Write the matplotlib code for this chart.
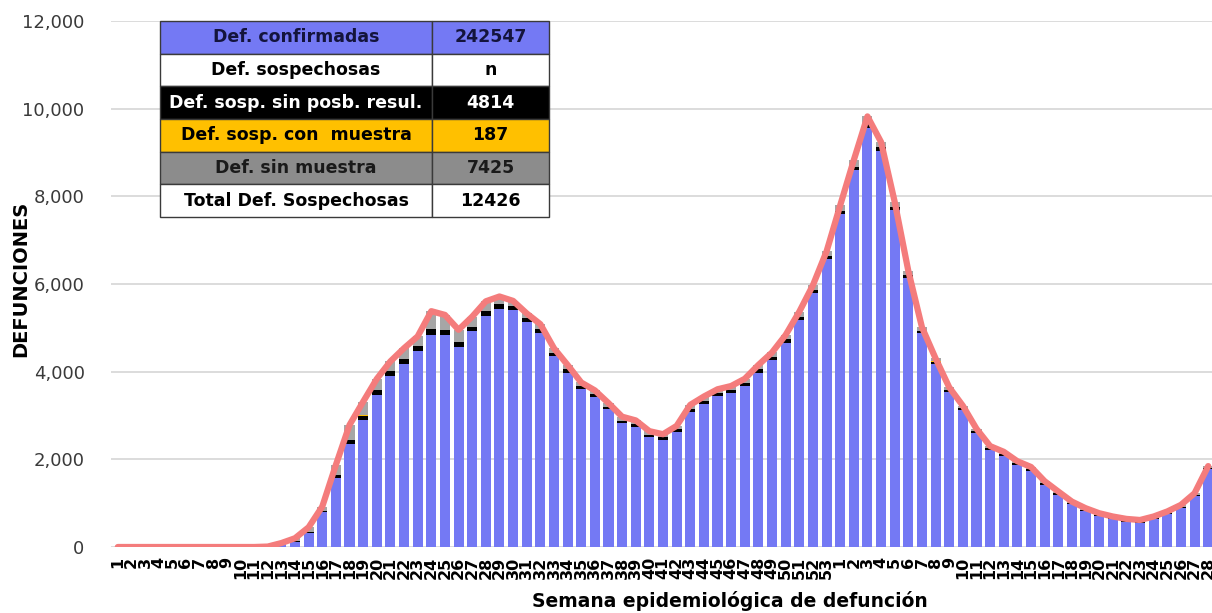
import matplotlib
matplotlib.use("Agg")
import matplotlib.pyplot as plt
import numpy as np
from matplotlib.ticker import FuncFormatter

# ---------------- data ----------------
weeks_2020 = [str(w) for w in range(1, 54)]
weeks_2021 = [str(w) for w in range(1, 29)]
week_labels = weeks_2020 + weeks_2021

confirmadas = [0, 0, 0, 0, 0, 0, 0, 0, 0, 0, 0, 10, 60,
               120, 330, 790, 1580, 2340, 2890, 3470, 3910, 4180, 4475,
               4845, 4830, 4560, 4920, 5280, 5435, 5410, 5135, 4890, 4360,
               3980, 3610, 3430, 3140, 2820, 2745, 2500, 2440, 2630, 3080,
               3260, 3435, 3510, 3665, 3980, 4255, 4665, 5185, 5790, 6560,
               7590, 8595, 9560, 9035, 7690, 6145, 4880, 4180, 3530, 3120,
               2605, 2210, 2080, 1875, 1745, 1425, 1195, 970, 820, 710,
               635, 580, 555, 635, 750, 900, 1165, 1775]

sin_posib_resul = [0, 0, 0, 0, 0, 0, 0, 0, 0, 0, 0, 0, 0,
                   10, 20, 40, 60, 100, 110, 110, 110, 110, 110,
                   120, 120, 110, 100, 100, 100, 90, 80, 80, 70,
                   70, 60, 60, 60, 60, 60, 60, 60, 60, 60,
                   70, 70, 70, 70, 70, 70, 70, 70, 70, 80,
                   80, 80, 90, 80, 70, 60, 50, 50, 50, 45,
                   40, 40, 40, 35, 35, 30, 30, 25, 25, 20,
                   20, 20, 20, 20, 20, 20, 20, 20]

con_muestra = [0, 0, 0, 0, 0, 0, 0, 0, 0, 0, 0, 0, 0,
               0, 0, 2, 3, 4, 5, 5, 5, 5, 5,
               5, 5, 5, 5, 5, 5, 5, 4, 4, 4,
               3, 3, 3, 3, 3, 3, 3, 3, 3, 3,
               3, 3, 3, 3, 3, 3, 3, 3, 3, 3,
               3, 3, 3, 3, 3, 2, 2, 2, 2, 2,
               2, 2, 2, 1, 1, 1, 1, 1, 1, 1,
               1, 1, 1, 1, 1, 1, 1, 1]

sin_muestra = [0, 0, 0, 0, 0, 0, 0, 0, 0, 0, 0, 0, 30,
               70, 100, 90, 230, 340, 310, 250, 210, 240, 215,
               410, 340, 280, 230, 220, 175, 110, 110, 110, 100,
               100, 80, 80, 80, 90, 80, 80, 70, 70, 100,
               100, 90, 90, 100, 100, 110, 100, 110, 110, 100,
               120, 150, 170, 120, 110, 90, 80, 70, 60, 55,
               50, 50, 50, 45, 45, 45, 40, 40, 40, 40,
               40, 40, 40, 40, 40, 40, 40, 50]

table_labels = ["Def. confirmadas", "Def. sospechosas", "Def. sosp. sin posb. resul.",
                "Def. sosp. con  muestra", "Def. sin muestra", "Total Def. Sospechosas"]
table_values = ["242547", "n", "4814", "187", "7425", "12426"]

# ---------------- style ----------------
BLUE = "#7479F4"
BLACK = "#000000"
ORANGE = "#FFC000"
GRAY = "#A6A6A6"
LINE = "#F47C7C"

W, H = 1212, 613
fig = plt.figure(figsize=(W / 100, H / 100), dpi=100)
left, right_px, top_px, bottom_px = 111, 1215, 21, 547
aw, ah = right_px - left, bottom_px - top_px
ax = fig.add_axes([left / W, (H - bottom_px) / H, aw / W, ah / H])

x = np.arange(len(week_labels))
conf = np.array(confirmadas, dtype=float)
blk = np.array(sin_posib_resul, dtype=float)
org = np.array(con_muestra, dtype=float)
gry = np.array(sin_muestra, dtype=float)
bw = 0.74

ax.bar(x, conf, width=bw, color=BLUE, zorder=2)
ax.bar(x, blk, width=bw, bottom=conf, color=BLACK, zorder=2)
ax.bar(x, org, width=bw, bottom=conf + blk, color=ORANGE, zorder=2)
ax.bar(x, gry, width=bw, bottom=conf + blk + org, color=GRAY, zorder=2)
total = conf + blk + org + gry
ax.plot(x, total, color=LINE, lw=4.5, solid_joinstyle="round", solid_capstyle="round", zorder=3)

ax.set_xlim(-0.5, len(x) - 0.5)
ax.set_ylim(0, 12000)
ax.set_yticks(np.arange(0, 12001, 2000))
ax.yaxis.set_major_formatter(FuncFormatter(lambda v, p: f"{int(v):,}"))
ax.grid(axis="y", color="#D9D9D9", lw=1.3, zorder=0)
ax.set_axisbelow(True)
for s in ax.spines.values():
    s.set_visible(False)
ax.tick_params(axis="y", length=0, pad=19, labelsize=13, labelcolor="#3A3A3A")
ax.set_xticks(x)
ax.set_xticklabels(week_labels, rotation=90, fontsize=11.5, fontweight="bold")
ax.tick_params(axis="x", length=0, pad=7)

ax.set_ylabel("DEFUNCIONES", fontsize=14, fontweight="bold")
ax.yaxis.set_label_coords((30 - left) / aw, 0.51)
ax.set_xlabel("Semana epidemiológica de defunción", fontsize=13.5, fontweight="bold")
ax.xaxis.set_label_coords((730 - left) / aw, -(591 - bottom_px) / ah)

# ---------------- table ----------------
tl, tt, tr, tb = 160, 21, 549, 217
tax = fig.add_axes([tl / W, (H - tb) / H, (tr - tl) / W, (tb - tt) / H])
tax.axis("off")
row_bg = [BLUE, "white", "black", ORANGE, "#8C8C8C", "white"]
row_fg = ["#14143C", "black", "white", "black", "#1A1A1A", "black"]
cells = [[a, b] for a, b in zip(table_labels, table_values)]
colours = [[c, c] for c in row_bg]
tbl = tax.table(cellText=cells, cellColours=colours, bbox=[0, 0, 1, 1],
                colWidths=[272 / 389, 117 / 389], cellLoc="center")
tbl.auto_set_font_size(False)
for (r, c), cell in tbl.get_celld().items():
    cell.set_edgecolor("#3A3A3A")
    cell.set_linewidth(1.0)
    cell.get_text().set_color(row_fg[r])
    cell.get_text().set_fontweight("bold")
    cell.get_text().set_fontsize(12.5)

fig.savefig("out.png", dpi=100)
